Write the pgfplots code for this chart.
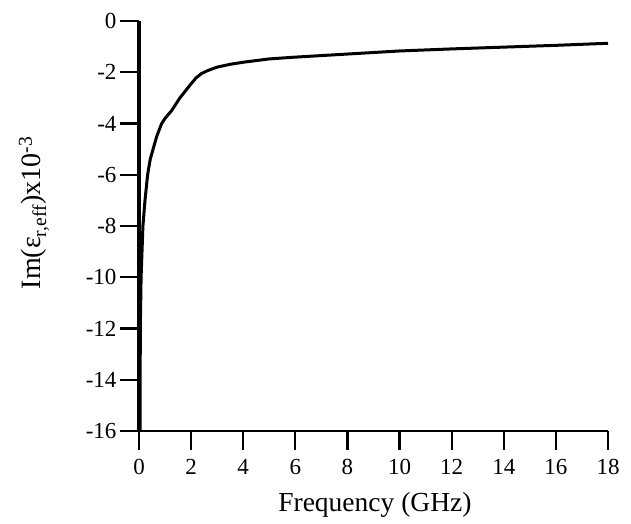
\documentclass[border=0pt]{standalone}
\usepackage{fontspec}
\setmainfont{Liberation Serif}
\usepackage{pgfplots}
\pgfplotsset{compat=1.18}
\begin{document}
\begin{tikzpicture}
\begin{axis}[
  scale only axis,
  width=469pt, height=410pt,
  xmin=0, xmax=18, ymin=-16, ymax=0,
  axis x line*=bottom, axis y line*=left,
  x axis line style={-, line width=2.6pt},
  y axis line style={-, line width=3.8pt},
  xtick={0,2,...,18}, ytick={-16,-14,...,0},
  xtick align=outside, ytick align=outside,
  major tick length=19pt,
  every tick/.style={line width=2.2pt, black},
  xticklabel style={font=\fontsize{23}{26}\selectfont, yshift=-6pt},
  yticklabel style={font=\fontsize{23}{26}\selectfont},
  xlabel={Frequency (GHz)},
  ylabel={Im(ε\textsubscript{r,eff})x10\textsuperscript{-3}},
  xlabel style={font=\fontsize{27.5}{30}\selectfont, at={(rel axis cs:0.503,-0.180)}, anchor=center},
  ylabel style={font=\fontsize{28}{30}\selectfont, at={(rel axis cs:-0.224,0.532)}, anchor=center},
  clip=false,
  /pgf/number format/assume math mode=true,
]
\addplot[black, line width=3pt] coordinates {
(0.04,-16) (0.05,-12) (0.08,-10) (0.15,-8) (0.23,-7) (0.33,-6) (0.43,-5.4) (0.54,-5) (0.68,-4.5) (0.87,-4.0) (1.0,-3.8) (1.25,-3.5) (1.57,-3.0) (1.96,-2.5) (2.19,-2.22) (2.4,-2.05) (2.65,-1.93) (3.0,-1.8) (3.5,-1.69) (4,-1.61) (5,-1.48) (6,-1.41) (7,-1.35) (8,-1.29) (9,-1.23) (10,-1.17) (12,-1.09) (14,-1.02) (16,-0.95) (18,-0.87)
};
\path (rel axis cs:-0.2964,-0.2268) rectangle (rel axis cs:1.049,1.0512);
\end{axis}
\end{tikzpicture}
\end{document}
